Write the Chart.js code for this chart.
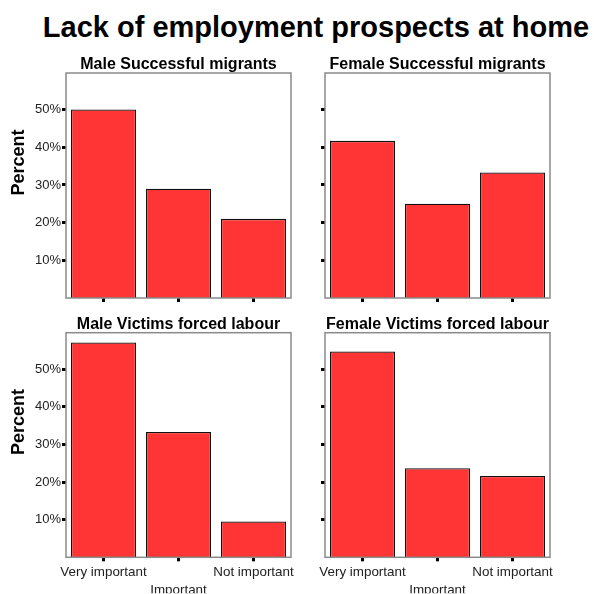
<!DOCTYPE html>
<html>
<head>
<meta charset="utf-8">
<script src="https://cdn.jsdelivr.net/npm/chart.js@4.4.0/dist/chart.umd.min.js"></script>
<style>
html,body{margin:0;padding:0;background:#fff;}
#wrap{position:relative;width:594px;height:594px;overflow:hidden;background:#fff;}
#mainTitle{position:absolute;left:316px;top:13px;transform:translateX(-50%);white-space:nowrap;
  font:bold 29px "Liberation Sans", Arial, sans-serif;line-height:29px;color:#000;}
canvas{position:absolute;left:0;top:0;}
</style>
</head>
<body>
<div id="wrap">
  <div id="mainTitle">Lack of employment prospects at home</div>
  <canvas id="c0" width="594" height="594"></canvas>
  <canvas id="c1" width="594" height="594"></canvas>
  <canvas id="c2" width="594" height="594"></canvas>
  <canvas id="c3" width="594" height="594"></canvas>
</div>
<script>
// ---- data ----
const categories = ['Very important', 'Important', 'Not important'];
const maleSuccessful   = [50.0, 29.0, 21.0];
const femaleSuccessful = [41.7, 25.0, 33.3];
const maleVictims      = [57.1, 33.3, 9.5];
const femaleVictims    = [54.7, 23.7, 21.6];
const panelTitles = ['Male Successful migrants', 'Female Successful migrants',
                     'Male Victims forced labour', 'Female Victims forced labour'];
const yTickValues = [10, 20, 30, 40, 50];
const yAxisTitle = 'Percent';
const yMax = 59.7;

const FONT = '"Liberation Sans", Arial, sans-serif';

const boxPlugin = {
  id: 'panelBox',
  afterDatasetsDraw(chart) {
    const {ctx, chartArea: a} = chart;
    ctx.save();
    ctx.strokeStyle = '#8a8a8a';
    ctx.lineWidth = 1.5;
    ctx.strokeRect(a.left, a.top, a.right - a.left, a.bottom - a.top);
    ctx.restore();
  },
  afterDraw(chart) {
    const opts = chart.options.plugins.panelBox || {};
    const {ctx, chartArea: a} = chart;
    ctx.save();
    // panel title centred over the plot box
    ctx.textAlign = 'center';
    ctx.textBaseline = 'alphabetic';
    ctx.fillStyle = '#000';
    ctx.font = 'bold 16px ' + FONT;
    ctx.fillText(opts.title || '', (a.left + a.right) / 2, a.top - 4.2);
    ctx.restore();
    if (!opts.showYTitle) return;
    ctx.save();
    ctx.translate(a.left - 46.5, (a.top + a.bottom) / 2 - 23);
    ctx.rotate(-Math.PI / 2);
    ctx.textAlign = 'center';
    ctx.textBaseline = 'middle';
    ctx.fillStyle = '#000';
    ctx.font = 'bold 18px ' + FONT;
    ctx.fillText(yAxisTitle, 0, 0);
    ctx.restore();
  }
};

const panels = [
  {id: 'c0', data: maleSuccessful,   title: panelTitles[0], L: 66,  R: 291, T: 73,    B: 298,   showY: true,  showX: false},
  {id: 'c1', data: femaleSuccessful, title: panelTitles[1], L: 325, R: 550, T: 73,    B: 298,   showY: false, showX: false},
  {id: 'c2', data: maleVictims,      title: panelTitles[2], L: 66,  R: 291, T: 332.7, B: 557.3, showY: true,  showX: true},
  {id: 'c3', data: femaleVictims,    title: panelTitles[3], L: 325, R: 550, T: 332.7, B: 557.3, showY: false, showX: true}
];

const Y_W = 40;

panels.forEach(p => {
  const xH = p.showX ? 36 : 10;
  new Chart(document.getElementById(p.id), {
    type: 'bar',
    data: {
      labels: categories,
      datasets: [{
        data: p.data,
        backgroundColor: '#ff3535',
        borderColor: '#111',
        borderWidth: 1.3,
        barPercentage: 0.867,
        categoryPercentage: 1.0
      }]
    },
    plugins: [boxPlugin],
    options: {
      responsive: false,
      devicePixelRatio: 1,
      animation: false,
      layout: {
        padding: {left: p.L - Y_W, right: 594 - p.R, top: p.T, bottom: 594 - p.B - xH}
      },
      plugins: {
        legend: {display: false},
        tooltip: {enabled: false},
        title: {display: false},
        panelBox: {showYTitle: p.showY, title: p.title}
      },
      scales: {
        x: {
          type: 'category',
          offset: true,
          border: {display: false},
          grid: {display: true, drawOnChartArea: false, drawTicks: true, offset: false,
                 tickLength: 4, tickWidth: 3, tickColor: '#000'},
          ticks: {
            display: p.showX,
            autoSkip: false,
            maxRotation: 0,
            minRotation: 0,
            padding: 3,
            color: '#222',
            font: {size: 13.4, family: FONT, lineHeight: 1.27},
            callback: function(v, i) {
              const lab = this.getLabelForValue(v);
              return i === 1 ? ['', lab] : lab;
            }
          },
          afterFit: s => { s.height = xH; }
        },
        y: {
          type: 'linear',
          min: 0,
          max: yMax,
          border: {display: false},
          grid: {display: true, drawOnChartArea: false, drawTicks: true,
                 tickLength: 4, tickWidth: 3, tickColor: '#000'},
          afterBuildTicks: s => { s.ticks = yTickValues.map(v => ({value: v})); },
          ticks: {
            padding: 1,
            color: '#222',
            font: {size: 13, family: FONT},
            callback: v => p.showY ? v + '%' : ''
          },
          afterFit: s => { s.width = Y_W; }
        }
      }
    }
  });
});
</script>
</body>
</html>
